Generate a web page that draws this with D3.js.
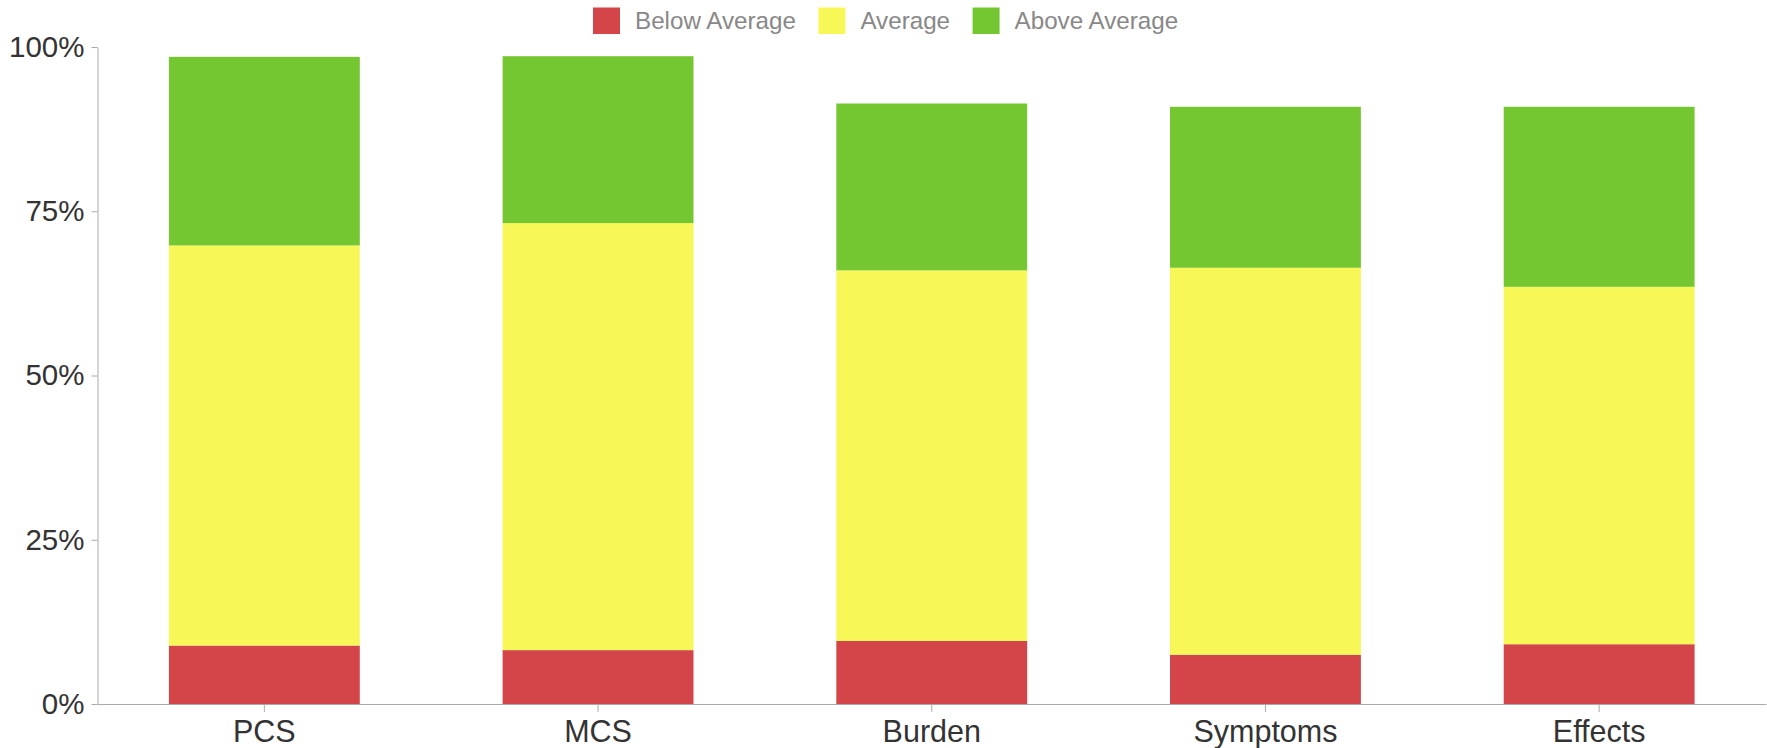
<!DOCTYPE html>
<html>
<head>
<meta charset="utf-8">
<script src="https://cdn.jsdelivr.net/npm/d3@7"></script>
<style>
  body { margin: 0; background: #fff; }
  svg { display: block; font-family: "Liberation Sans", Arial, sans-serif; }
  .axis path, .axis line { stroke: #aaa; }
  .axis text { fill: #333; }
</style>
</head>
<body>
<svg width="1767" height="748"></svg>
<script>
// categories and series (percent of respondents)
var categories = ["PCS", "MCS", "Burden", "Symptoms", "Effects"];
var keys = ["Below Average", "Average", "Above Average"];
var belowAvg = [8.9, 8.2, 9.6, 7.5, 9.1];
var average = [60.9, 65.0, 56.4, 58.9, 54.4];
var aboveAvg = [28.7, 25.4, 25.4, 24.5, 27.4];
var yTicks = [0, 25, 50, 75, 100];
var colors = ["#d4454a", "#f8f758", "#74c730"];

var svg = d3.select("svg"),
margin = {top: 47, right: 1, bottom: 44, left: 97.5},
width = +svg.attr("width") - margin.left - margin.right,
height = +svg.attr("height") - margin.top - margin.bottom,
g = svg.append("g").attr("transform", "translate(" + margin.left + "," + margin.top + ")");

var data = categories.map(function(c, i) {
  return {cat: c, "Below Average": belowAvg[i], "Average": average[i], "Above Average": aboveAvg[i]};
});

var x = d3.scaleBand()
.domain(categories)
.range([0, width])
.paddingInner(0.428)
.paddingOuter(0.214);

var y = d3.scaleLinear()
.domain([0, 100])
.range([height, 0]);

var z = d3.scaleOrdinal().domain(keys).range(colors);

var series = d3.stack().keys(keys)(data);

//barras empilhadas
g.append("g")
.selectAll("g")
.data(series)
.enter().append("g")
.attr("fill", function(d) { return z(d.key); })
.selectAll("rect")
.data(function(d) { return d; })
.enter().append("rect")
.attr("x", function(d) { return x(d.data.cat); })
.attr("y", function(d) { return y(d[1]); })
.attr("height", function(d) { return y(d[0]) - y(d[1]); })
.attr("width", x.bandwidth());

//eixos
g.append("g")
.attr("class", "axis")
.attr("font-family", null)
.call(d3.axisLeft(y).tickValues(yTicks).tickFormat(function(d) { return d + "%"; })
  .tickSize(6).tickSizeOuter(0).tickPadding(7))
.selectAll("text")
.attr("font-size", 29.5);

g.append("g")
.attr("class", "axis")
.attr("transform", "translate(0," + height + ")")
.call(d3.axisBottom(x).tickSize(8).tickSizeOuter(0).tickPadding(8))
.selectAll("text")
.attr("font-size", 30.5);

g.selectAll(".axis").attr("font-family", null);

//legenda
var legend = svg.append("g").attr("class", "legend");
var lx = 0;
keys.forEach(function(k, i) {
  var item = legend.append("g").attr("transform", "translate(" + lx + ",0)");
  item.append("rect")
  .attr("x", 0)
  .attr("y", 7.5)
  .attr("width", 27)
  .attr("height", 26.5)
  .attr("fill", z(k));
  var t = item.append("text")
  .attr("x", 42)
  .attr("y", 21)
  .attr("dy", "0.35em")
  .attr("font-size", 24.2)
  .attr("fill", "#888")
  .text(k);
  lx += 42 + t.node().getComputedTextLength() + 22.5;
});
legend.attr("transform", "translate(593,0)");
</script>
</body>
</html>
